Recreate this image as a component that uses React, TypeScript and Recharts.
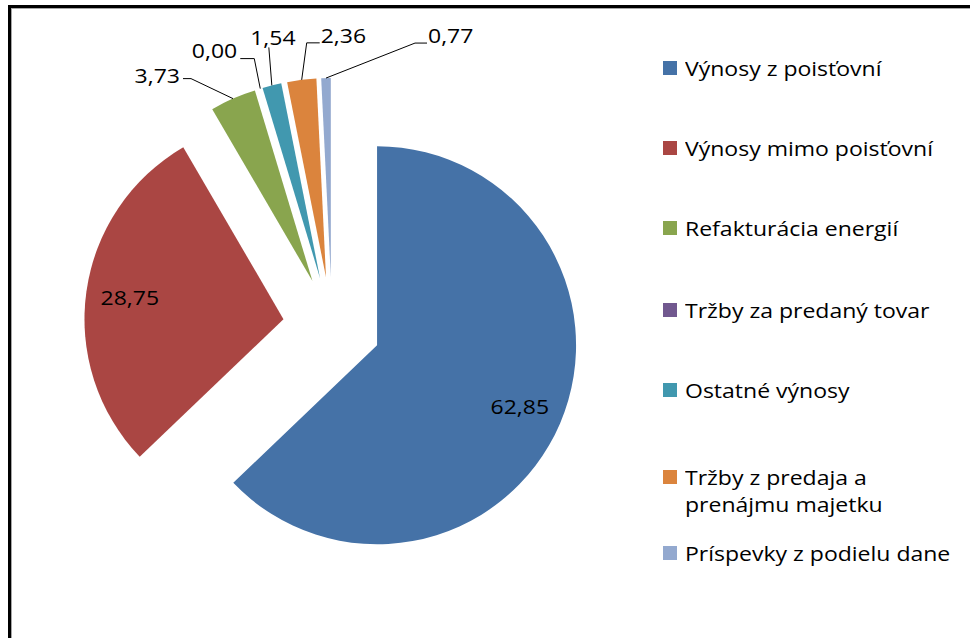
import React from "react";
import { PieChart, Pie, Cell, Sector, Legend } from "recharts";

const categories = [
  "Výnosy z poisťovní",
  "Výnosy mimo poisťovní",
  "Refakturácia energií",
  "Tržby za predaný tovar",
  "Ostatné výnosy",
  "Tržby z predaja a prenájmu majetku",
  "Príspevky z podielu dane",
];
const shares = [62.85, 28.75, 3.73, 0.0, 1.54, 2.36, 0.77];
const colors = ["#4572A7", "#AA4643", "#89A54E", "#71588F", "#4198AF", "#DB843D", "#93A9CF"];

// legend text broken the way the original wraps it
const legendLines = [
  ["Výnosy z poisťovní"],
  ["Výnosy mimo poisťovní"],
  ["Refakturácia energií"],
  ["Tržby za predaný tovar"],
  ["Ostatné výnosy"],
  ["Tržby z predaja a", "prenájmu majetku"],
  ["Príspevky z podielu dane"],
];

const data = categories.map((name, i) => ({ name, value: shares[i] }));

const FONT = "'Open Sans', sans-serif";
const FONT_SIZE = 20;
const STRETCH = 1.15; // the original text is a little wider than Open Sans
const EXPLODE = 49;
const RAD = Math.PI / 180;

// leader lines for the small slices: elbow offset from the slice edge, then a short tick
type Leader = { dx: number; dy: number; tick: number; textDy: number };
const leaders: (Leader | null)[] = [
  null,
  null,
  { dx: -42, dy: -20, tick: -8, textDy: -4 },
  { dx: -6, dy: -30, tick: -14, textDy: -8 },
  { dx: -3, dy: -38, tick: 0, textDy: -10 },
  { dx: 5, dy: -37, tick: 13, textDy: -8 },
  { dx: 89, dy: -35, tick: 12, textDy: -8 },
];

const legendCenters = [68, 148, 228, 310, 390, 477, 553];

const fmt = (v: number) => v.toFixed(2).replace(".", ",");

function ValueText({ x, y, anchor, children }: { x: number; y: number; anchor: "start" | "end" | "middle"; children: React.ReactNode }) {
  return (
    <text
      transform={`translate(${x},${y}) scale(${STRETCH},1)`}
      textAnchor={anchor}
      dominantBaseline="central"
      fontFamily={FONT}
      fontSize={FONT_SIZE}
      fill="#000"
    >
      {children}
    </text>
  );
}

function ExplodedSlice(props: any) {
  const { cx, cy, innerRadius, outerRadius, startAngle, endAngle, midAngle, index, value } = props;
  const ux = Math.cos(-midAngle * RAD);
  const uy = Math.sin(-midAngle * RAD);
  const vx = cx + ux * EXPLODE;
  const vy = cy + uy * EXPLODE;
  const leader = leaders[index];

  let label: React.ReactNode;
  if (!leader) {
    const r = outerRadius * 0.78;
    label = (
      <ValueText x={vx + ux * r} y={vy + uy * r} anchor="middle">
        {fmt(value)}
      </ValueText>
    );
  } else {
    const ax = vx + ux * outerRadius;
    const ay = vy + uy * outerRadius;
    const ex = ax + leader.dx;
    const ey = ay + leader.dy;
    const tx = ex + leader.tick;
    let textX = tx;
    let anchor: "start" | "end" | "middle" = "middle";
    if (leader.tick < 0) {
      textX = tx - 3;
      anchor = "end";
    } else if (leader.tick > 0) {
      textX = tx + 1;
      anchor = "start";
    } else {
      textX = ex + 4;
    }
    label = (
      <g>
        <polyline
          points={`${ax},${ay} ${ex},${ey} ${tx},${ey}`}
          fill="none"
          stroke="#000"
          strokeWidth={1}
        />
        <ValueText x={textX} y={ey + leader.textDy} anchor={anchor}>
          {fmt(value)}
        </ValueText>
      </g>
    );
  }

  return (
    <g>
      <Sector
        cx={vx}
        cy={vy}
        innerRadius={innerRadius}
        outerRadius={outerRadius}
        startAngle={startAngle}
        endAngle={endAngle}
        fill={colors[index]}
        fillOpacity={1}
        stroke="none"
      />
      {label}
    </g>
  );
}

function LegendBox() {
  return (
    <div style={{ position: "relative", width: 300, height: 600, fontFamily: FONT, fontSize: FONT_SIZE }}>
      {legendLines.map((lines, i) => (
        <div
          key={categories[i]}
          style={{
            position: "absolute",
            left: 0,
            top: legendCenters[i] - 13,
            display: "flex",
            alignItems: "flex-start",
            lineHeight: "27px",
            color: "#000",
            whiteSpace: "nowrap",
          }}
        >
          <span
            style={{
              display: "inline-block",
              width: 14,
              height: 14,
              marginTop: 6,
              marginRight: 8,
              background: colors[i],
            }}
          />
          <span style={{ display: "inline-block", transform: `scaleX(${STRETCH})`, transformOrigin: "left center" }}>
            {lines.map((l) => (
              <div key={l}>{l}</div>
            ))}
          </span>
        </div>
      ))}
    </div>
  );
}

export default function App() {
  return (
    <div
      style={{
        position: "absolute",
        left: 0,
        top: 0,
        width: 970,
        height: 638,
        background: "#fff",
        overflow: "hidden",
      }}
    >
      <div
        style={{
          position: "absolute",
          left: 8,
          top: 5,
          width: 970,
          height: 640,
          borderLeft: "3px solid #000",
          borderTop: "3px solid #000",
          boxSizing: "border-box",
        }}
      >
        <div
          style={{
            width: "100%",
            height: "100%",
            borderLeft: "1px solid #a6a6a6",
            borderTop: "1px solid #a6a6a6",
            boxSizing: "border-box",
          }}
        />
      </div>
      <div style={{ position: "absolute", left: 0, top: 0 }}>
        <PieChart width={970} height={638} margin={{ top: 0, right: 0, bottom: 0, left: 0 }}>
          <Pie
            data={data}
            dataKey="value"
            nameKey="name"
            cx={332}
            cy={326}
            outerRadius={199}
            startAngle={90}
            endAngle={-270}
            stroke="none"
            fillOpacity={0}
            label={ExplodedSlice}
            labelLine={false}
            isAnimationActive={false}
          >
            {data.map((d, i) => (
              <Cell key={d.name} fill={colors[i]} />
            ))}
          </Pie>
          <Legend
            layout="vertical"
            align="right"
            verticalAlign="top"
            content={() => <LegendBox />}
            wrapperStyle={{ left: 663, top: 0, width: 300, right: "auto" }}
          />
        </PieChart>
      </div>
    </div>
  );
}
